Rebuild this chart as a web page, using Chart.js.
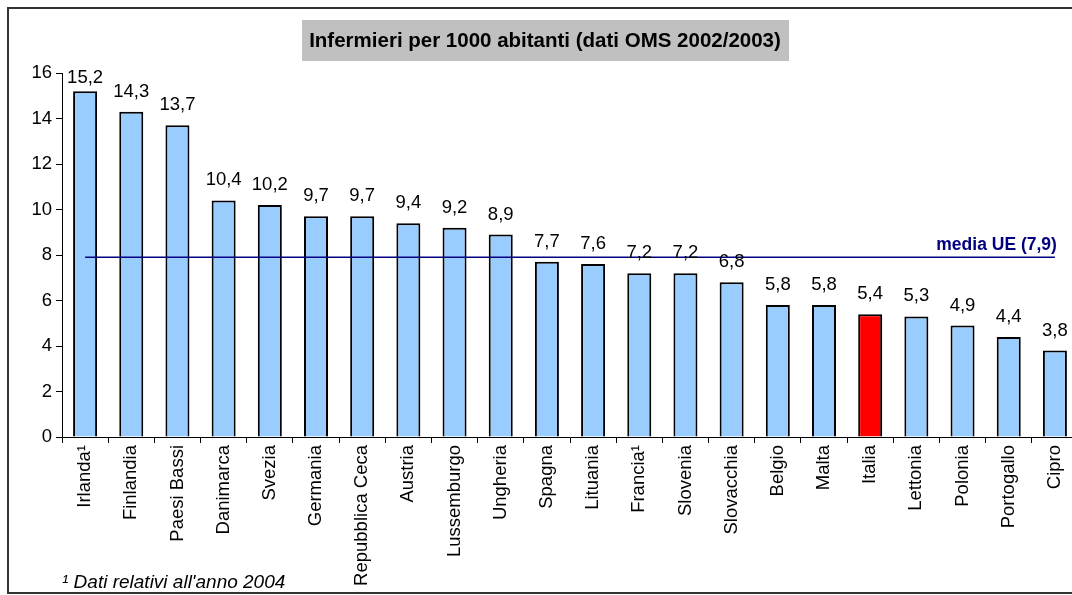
<!DOCTYPE html>
<html>
<head>
<meta charset="utf-8">
<script src="https://cdn.jsdelivr.net/npm/chart.js@4"></script>
<style>
  html, body { margin: 0; padding: 0; background: #fff; overflow: hidden; }
  #wrap { width: 1080px; height: 595px; position: relative; }
</style>
</head>
<body>
<div id="wrap"><canvas id="c" width="1080" height="595"></canvas></div>
<script>
const categories = ["Irlanda\u00B9","Finlandia","Paesi Bassi","Danimarca","Svezia","Germania","Repubblica Ceca","Austria","Lussemburgo","Ungheria","Spagna","Lituania","Francia\u00B9","Slovenia","Slovacchia","Belgio","Malta","Italia","Lettonia","Polonia","Portogallo","Cipro"];
const nurses = [15.2,14.3,13.7,10.4,10.2,9.7,9.7,9.4,9.2,8.9,7.7,7.6,7.2,7.2,6.8,5.8,5.8,5.4,5.3,4.9,4.4,3.8];
const highlighted = "Italia";
const meanValue = 7.9;
const meanLabel = "media UE (7,9)";
const yTicks = [0,2,4,6,8,10,12,14,16];
const titleText = "Infermieri per 1000 abitanti (dati OMS 2002/2003)";
const footnote = "\u00B9 Dati relativi all'anno 2004";

const FONT = "'Liberation Sans', Arial, sans-serif";
const fmt = v => v.toFixed(1).replace('.', ',');

const decor = {
  id: 'decor',
  beforeDraw(chart) {
    const ctx = chart.ctx;
    ctx.save();
    ctx.fillStyle = '#fff';
    ctx.fillRect(0, 0, chart.width, chart.height);
    // frame
    ctx.strokeStyle = '#333';
    ctx.lineWidth = 2;
    ctx.strokeRect(8, 8, 1100, 585);
    // title box
    ctx.fillStyle = '#c0c0c0';
    ctx.fillRect(302, 20, 487, 41);
    ctx.fillStyle = '#000';
    ctx.font = 'bold 20.5px ' + FONT;
    ctx.textAlign = 'center';
    ctx.textBaseline = 'middle';
    ctx.fillText(titleText, 545, 41);
    // footnote
    ctx.font = 'italic 19px ' + FONT;
    ctx.textAlign = 'left';
    ctx.textBaseline = 'alphabetic';
    ctx.fillText(footnote, 62, 588);
    ctx.restore();
  },
  afterDatasetsDraw(chart) {
    const ctx = chart.ctx;
    const area = chart.chartArea;
    ctx.save();
    const meta = chart.getDatasetMeta(0);
    ctx.fillStyle = '#000';
    ctx.font = '18.5px ' + FONT;
    ctx.textAlign = 'center';
    ctx.textBaseline = 'alphabetic';
    meta.data.forEach((bar, i) => {
      const y = Math.max(bar.y - 15, area.top + 10);
      ctx.fillText(fmt(nurses[i]), bar.x, y);
    });
    // mean label
    const lm = chart.getDatasetMeta(1);
    const last = lm.data[lm.data.length - 1];
    ctx.fillStyle = '#000080';
    ctx.font = 'bold 17.5px ' + FONT;
    ctx.textAlign = 'right';
    ctx.fillText(meanLabel, last.x + 2, last.y - 7);
    ctx.restore();
  }
};

new Chart(document.getElementById('c'), {
  type: 'bar',
  data: {
    labels: categories,
    datasets: [
      {
        type: 'bar',
        data: nurses,
        backgroundColor: categories.map(c => c === highlighted ? '#ff0000' : '#99ccff'),
        borderColor: '#000',
        borderWidth: 2,
        borderSkipped: 'bottom',
        barPercentage: 0.52,
        categoryPercentage: 1,
        order: 2
      },
      {
        type: 'line',
        data: categories.map(() => meanValue),
        borderColor: '#000080',
        borderWidth: 1.5,
        pointRadius: 0,
        fill: false,
        order: 1
      }
    ]
  },
  options: {
    responsive: false,
    animation: false,
    devicePixelRatio: 1,
    layout: { padding: { left: 0, right: 2, top: 73, bottom: 0 } },
    plugins: { legend: { display: false }, tooltip: { enabled: false }, title: { display: false } },
    scales: {
      x: {
        offset: true,
        grid: { display: true, drawOnChartArea: false, offset: true, tickLength: 6, color: '#000' },
        border: { color: '#000', width: 1 },
        ticks: {
          color: '#000', font: { family: FONT, size: 18.5 },
          maxRotation: 90, minRotation: 90, padding: 2, autoSkip: false
        },
        afterFit: s => { s.height = 158; }
      },
      y: {
        min: 0, max: 16,
        afterBuildTicks: s => { s.ticks = yTicks.map(v => ({ value: v })); },
        grid: { display: true, drawOnChartArea: false, tickLength: 6, color: '#000' },
        border: { color: '#000', width: 1 },
        ticks: { color: '#000', font: { family: FONT, size: 18.5 }, padding: 4 },
        afterFit: s => { s.width = 62; }
      }
    }
  },
  plugins: [decor]
});
</script>
</body>
</html>
